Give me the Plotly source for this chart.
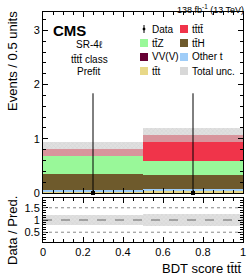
import plotly.graph_objects as go

# ---------------- data ----------------
bin_centers = [0.25, 0.75]
bin_width = 0.5
ttt_vals = [0.01, 0.035]
othert_vals = [0.05, 0.043]
vvv_vals = [0.0, 0.0]
tth_vals = [0.295, 0.26]
ttz_vals = [0.33, 0.246]
tttt_vals = [0.125, 0.482]
total_unc = [0.127, 0.13]
data_vals = [0, 0]
data_err_up = [1.84, 1.84]
ratio_rel_unc = [0.2, 0.24]
x_ticks = [0, 0.2, 0.4, 0.6, 0.8, 1]
x_tick_labels = ["0", "0.2", "0.4", "0.6", "0.8", "1"]

procs = [
    ("ttt", ttt_vals, "#e8d888"),
    ("Other t", othert_vals, "#9fcdf8"),
    ("VV(V)", vvv_vals, "#660033"),
    ("ttH", tth_vals, "#6e5a2c"),
    ("ttZ", ttz_vals, "#99f899"),
    ("tttt", tttt_vals, "#f0344a"),
]

W, H = 249, 275
L, R, T, B = 43, 6, 12, 33
PW, PH = W - L - R, H - T - B

def px_x(p):
    return (p - L) / PW

def px_y(p):
    return (H - B - p) / PH

fig = go.Figure()

cum = [0.0, 0.0]
for name, vals, col in procs:
    fig.add_trace(go.Bar(x=bin_centers, y=vals, base=list(cum), width=bin_width,
                         marker=dict(color=col, line=dict(width=0)),
                         name=name, showlegend=False, xaxis="x", yaxis="y"))
    cum = [c + v for c, v in zip(cum, vals)]

totals = cum
unc_col = "rgba(205,205,205,0.62)"
hatch = dict(shape="x", fgcolor="rgba(170,170,170,0.5)", size=3, solidity=0.3)
fig.add_trace(go.Bar(x=bin_centers, y=[2 * u for u in total_unc],
                     base=[t - u for t, u in zip(totals, total_unc)], width=bin_width,
                     marker=dict(color=unc_col, line=dict(width=0), pattern=hatch),
                     showlegend=False, xaxis="x", yaxis="y"))

fig.add_trace(go.Scatter(x=bin_centers, y=data_vals, mode="markers",
                         marker=dict(symbol="square", size=4, color="black"),
                         error_y=dict(type="data", symmetric=False, array=data_err_up,
                                      arrayminus=[0, 0], color="black", thickness=1, width=0),
                         cliponaxis=False, showlegend=False, xaxis="x", yaxis="y"))

# ratio band
fig.add_trace(go.Bar(x=bin_centers, y=[2 * r for r in ratio_rel_unc], base=[1 - r for r in ratio_rel_unc],
                     width=bin_width,
                     marker=dict(color=unc_col, line=dict(width=0), pattern=hatch),
                     showlegend=False, xaxis="x2", yaxis="y2"))

main_bottom = px_y(193)
ratio_top = px_y(198)

fnt = "Liberation Sans, Arial"
axis_common = dict(showline=True, linecolor="black", linewidth=1, mirror="ticks", ticks="inside",
                   tickcolor="black", showgrid=False, zeroline=False, automargin=False,
                   tickfont=dict(family=fnt, size=11, color="black"))

fig.update_layout(
    width=W, height=H, margin=dict(l=L, r=R, t=T, b=B),
    paper_bgcolor="white", plot_bgcolor="white", barmode="overlay", bargap=0,
    xaxis=dict(domain=[0, 1], range=[0, 1], anchor="y", showticklabels=False, tickmode="array",
               tickvals=x_ticks, ticklen=5,
               minor=dict(dtick=0.05, ticks="inside", ticklen=3, tickcolor="black"), **axis_common),
    yaxis=dict(domain=[main_bottom, 1], range=[0, 3.34], anchor="x", tickmode="array",
               tickvals=[0, 1, 2, 3], ticktext=["0", "1", "2", "3"], ticklen=5,
               minor=dict(dtick=0.2, ticks="inside", ticklen=3, tickcolor="black"), **axis_common),
    xaxis2=dict(domain=[0, 1], range=[0, 1], anchor="y2", tickmode="array", tickvals=x_ticks,
                ticktext=x_tick_labels, showticklabels=True, ticklen=5,
                minor=dict(dtick=0.05, ticks="inside", ticklen=3, tickcolor="black"), **axis_common),
    yaxis2=dict(domain=[0, ratio_top], range=[0.1, 1.9], anchor="x2", tickmode="array",
                tickvals=[0.5, 1, 1.5], ticktext=["0.5", "1", "1.5"], ticklen=5,
                minor=dict(dtick=0.1, ticks="inside", ticklen=3, tickcolor="black"), **axis_common),
    font=dict(family=fnt, color="black"),
)

# ratio reference lines
for yv, dash, col in [(0.5, "dot", "#888"), (1.5, "dot", "#888"), (1.0, "dash", "#666")]:
    fig.add_shape(type="line", xref="x2", yref="y2", x0=0, x1=1, y0=yv, y1=yv,
                  line=dict(color=col, width=1, dash=dash))

ann = []
ann.append(dict(text="138 fb<sup>-1</sup> (13 TeV)", x=px_x(246), y=px_y(1), xanchor="right", yanchor="top",
                font=dict(size=9, family=fnt)))
ann.append(dict(text="<b>CMS</b>", x=px_x(51), y=px_y(20), xanchor="left", yanchor="top",
                font=dict(size=15, family=fnt)))
for txt, yy in [("SR-4ℓ", 45), ("tt\u0304tt\u0304 class", 59), ("Prefit", 71)]:
    ann.append(dict(text=txt, x=px_x(89), y=px_y(yy), xanchor="center", yanchor="middle",
                    font=dict(size=10, family=fnt)))
ann.append(dict(text="Events / 0.5 units", textangle=-90, x=px_x(12), y=px_y(9), xanchor="center",
                yanchor="top", font=dict(size=13, family=fnt)))
ann.append(dict(text="Data / Pred.", textangle=-90, x=px_x(12), y=px_y(231), xanchor="center",
                yanchor="middle", font=dict(size=13, family=fnt)))
ann.append(dict(text="BDT score tt\u0304tt\u0304", x=px_x(244), y=px_y(268), xanchor="right",
                yanchor="middle", font=dict(size=13, family=fnt)))

# legend (manual)
legend_items = [
    ("Data", None, 0, 0), ("tt\u0304tt\u0304", "#f0344a", 1, 0),
    ("tt\u0304Z", "#99f899", 0, 1), ("tt\u0304H", "#6e5a2c", 1, 1),
    ("VV(V)", "#660033", 0, 2), ("Other t", "#9fcdf8", 1, 2),
    ("tt\u0304t", "#e8d888", 0, 3), ("Total unc.", "hatch", 1, 3),
]
col_x = [140, 180]
row_y = [29, 43, 57, 71]
for label, col, c, r in legend_items:
    x0 = col_x[c]
    yc = row_y[r]
    if col is None:
        fig.add_shape(type="line", xref="paper", yref="paper", x0=px_x(x0 + 4), x1=px_x(x0 + 4),
                      y0=px_y(yc - 4), y1=px_y(yc + 4), line=dict(color="black", width=1))
        fig.add_shape(type="rect", xref="paper", yref="paper", x0=px_x(x0 + 3), x1=px_x(x0 + 5),
                      y0=px_y(yc - 1), y1=px_y(yc + 1), line=dict(color="black", width=0.5), fillcolor="black")
    elif col == "hatch":
        fig.add_shape(type="rect", xref="paper", yref="paper", x0=px_x(x0), x1=px_x(x0 + 8),
                      y0=px_y(yc - 4), y1=px_y(yc + 4), line=dict(width=0), fillcolor="#d8d8d8")
    else:
        fig.add_shape(type="rect", xref="paper", yref="paper", x0=px_x(x0), x1=px_x(x0 + 8),
                      y0=px_y(yc - 4), y1=px_y(yc + 4), line=dict(width=0), fillcolor=col)
    ann.append(dict(text=label, x=px_x(x0 + 10), y=px_y(yc), xanchor="left", yanchor="middle",
                    font=dict(size=10, family=fnt)))

for a in ann:
    a.update(xref="paper", yref="paper", showarrow=False)
    fig.add_annotation(**a)

fig.write_html("out.html", config={"displayModeBar": False},
               post_script="document.body.style.margin='0';document.body.style.overflow='hidden';")
